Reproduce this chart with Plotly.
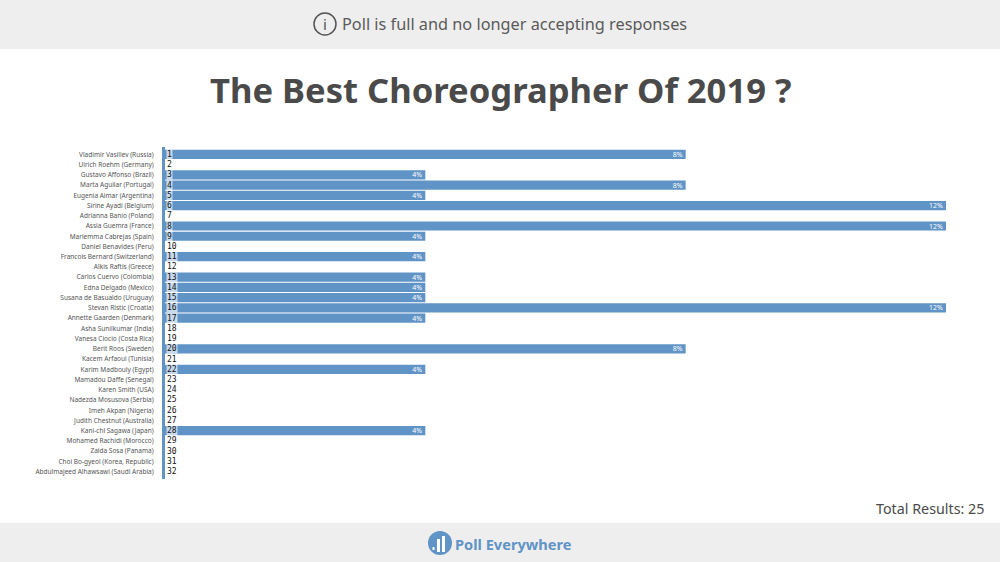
import plotly.graph_objects as go

# poll results
names = [
    "Vladimir Vasiliev (Russia)", "Ulrich Roehm (Germany)", "Gustavo Affonso (Brazil)",
    "Marta Aguilar (Portugal)", "Eugenia Aimar (Argentina)", "Sirine Ayadi (Belgium)",
    "Adrianna Banio (Poland)", "Assia Guemra (France)", "Mariemma Cabrejas (Spain)",
    "Daniel Benavides (Peru)", "Francois Bernard (Switzerland)", "Alkis Raftis (Greece)",
    "Carlos Cuervo (Colombia)", "Edna Delgado (Mexico)", "Susana de Basualdo (Uruguay)",
    "Stevan Ristic (Croatia)", "Annette Gaarden (Denmark)", "Asha Sunilkumar (India)",
    "Vanesa Ciocio (Costa Rica)", "Berit Roos (Sweden)", "Kacem Arfaoui (Tunisia)",
    "Karim Madbouly (Egypt)", "Mamadou Daffe (Senegal)", "Karen Smith (USA)",
    "Nadezda Mosusova (Serbia)", "Imeh Akpan (Nigeria)", "Judith Chestnut (Australia)",
    "Kani-chi Sagawa (Japan)", "Mohamed Rachidi (Morocco)", "Zaida Sosa (Panama)",
    "Choi Bo-gyeol (Korea, Republic)", "Abdulmajeed Alhawsawi (Saudi Arabia)",
]
percents = [8, 0, 4, 8, 4, 12, 0, 12, 4, 0, 4, 0, 4, 4, 4, 12, 4, 0, 0, 8, 0, 4, 0, 0, 0, 0, 0, 4, 0, 0, 0, 0]
ranks = list(range(1, 33))

W, H = 1000, 562
LEFT, RIGHT, TOP, BOTTOM = 165, 946, 147, 479
BLUE = "#6093c6"
GREY = "#eeeeee"
TEXT = "#4a4a4a"
FONT = "Noto Sans"


def px(x):
    return (x - LEFT) / (RIGHT - LEFT)


def py(y):
    return (BOTTOM - y) / (BOTTOM - TOP)


def box(x0, y0, x1, y1, color, kind="rect", line=None, layer="above"):
    return dict(type=kind, xref="paper", yref="paper", x0=px(x0), y0=py(y0), x1=px(x1), y1=py(y1),
                fillcolor=color, line=line or dict(width=0), layer=layer)


def label(x, y, text, size, color=TEXT, anchor="center", weight=None, family=FONT):
    return dict(xref="paper", yref="paper", x=px(x), y=py(y), text=text, showarrow=False,
                xanchor=anchor, yanchor="middle",
                font=dict(size=size, color=color, family=family, weight=weight))


fig = go.Figure(go.Bar(
    y=names, x=percents, orientation="h",
    marker=dict(color=BLUE, line=dict(width=0)),
    text=[f"{p}%" if p else "" for p in percents],
    textposition="inside", insidetextanchor="end", textangle=0,
    textfont=dict(size=7, color="white", family=FONT),
    constraintext="none", cliponaxis=False, hoverinfo="skip",
))

shapes = [
    box(0, 0, W, 49, GREY, layer="below"),
    box(0, 523, W, H, GREY, layer="below"),
    # info icon
    box(314, 13, 336, 35, "rgba(0,0,0,0)", kind="circle", line=dict(color="#555555", width=1.5)),
    # logo
    box(428, 531, 452, 555, BLUE, kind="circle"),
    box(432.5, 547, 434.5, 550, "white"),
    box(437, 539, 440, 552, "white"),
    box(442, 536, 445, 552, "white"),
]

annotations = [
    label(325, 24, "i", 15, color="#555555"),
    label(514, 24, "Poll is full and no longer accepting responses", 16.3, color="#5a5a5a"),
    label(500, 89, "The Best Choreographer Of 2019 ?", 34.6, weight=700),
    label(986, 508, "Total Results: 25", 14.3, anchor="right"),
    label(453, 544, "Poll Everywhere", 14.6, color=BLUE, anchor="left", weight=700),
]
# rank numbers sit on a pale box at the start of each row
for name, rank in zip(names, ranks):
    annotations.append(dict(
        xref="x", yref="y", x=0, y=name, text=str(rank), showarrow=False,
        xanchor="left", yanchor="middle", borderpad=0, xshift=1,
        bgcolor="rgba(255,255,255,0.65)",
        font=dict(size=8, color="#111111", family="DejaVu Sans Mono"),
    ))

fig.update_layout(
    width=W, height=H, autosize=False,
    margin=dict(l=LEFT, r=W - RIGHT, t=TOP, b=H - BOTTOM, pad=0),
    paper_bgcolor="white", plot_bgcolor="white", showlegend=False,
    bargap=0.1, shapes=shapes, annotations=annotations,
    xaxis=dict(range=[0, 12], visible=False, fixedrange=True),
    yaxis=dict(
        type="category", categoryorder="array", categoryarray=names,
        range=[31.72, -0.72], showgrid=False, zeroline=False,
        showline=True, linecolor=BLUE, linewidth=3,
        ticks="", ticklabelstandoff=7, tickmode="array", tickvals=names,
        tickfont=dict(size=6.5, color="#555555", family=FONT),
    ),
)

# the page body has a default margin that would push the chart off by 8px
fig.write_html("out.html", config=dict(displayModeBar=False),
               post_script="document.body.style.margin='0';document.body.style.overflow='hidden';")
